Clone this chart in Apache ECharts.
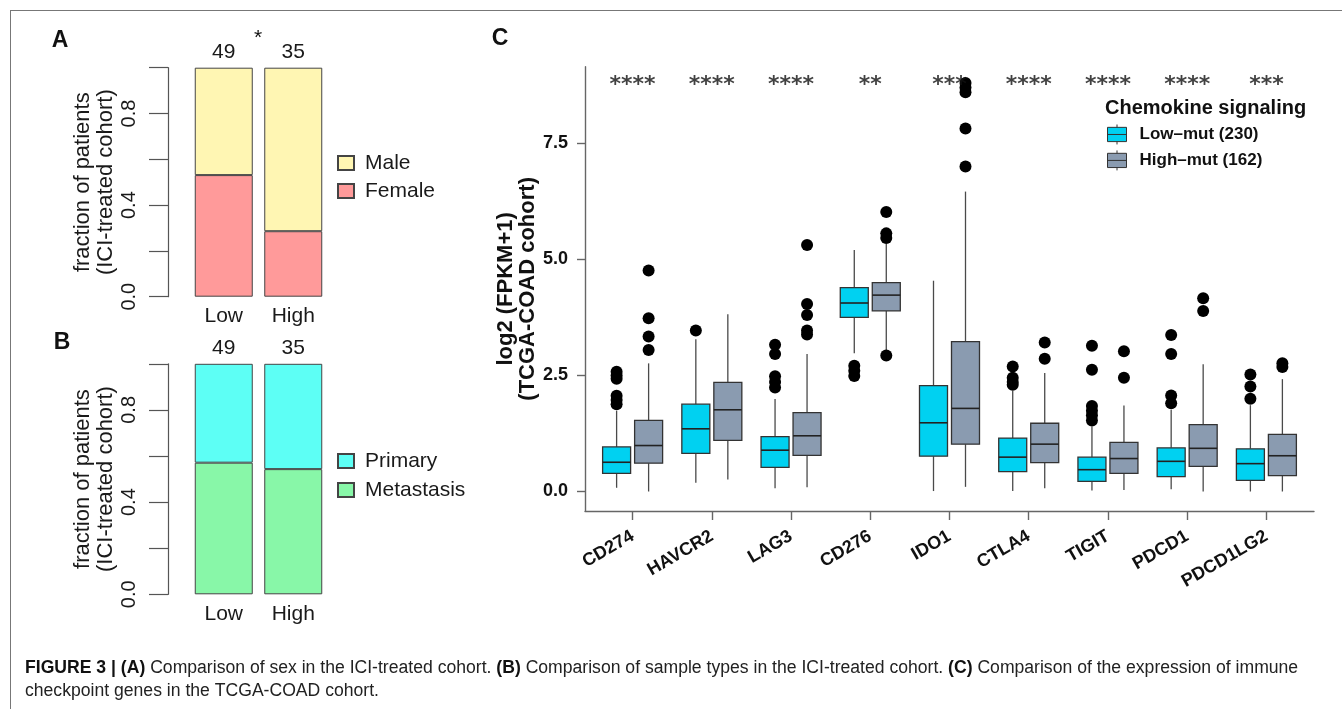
<!DOCTYPE html>
<html>
<head>
<meta charset="utf-8">
<script src="https://cdn.jsdelivr.net/npm/echarts@6/dist/echarts.min.js"></script>
<style>
  html, body { margin: 0; padding: 0; background: #fff; }
  #frame { position: absolute; left: 10px; top: 10px; width: 1332px; height: 699px;
           border-left: 1px solid #777; border-top: 1px solid #777; box-sizing: border-box; }
  #chart { position: absolute; left: 0; top: 0; width: 1342px; height: 709px; }
</style>
</head>
<body>
<div id="frame"></div>
<div id="chart"></div>
<script>
// panel A / B: fraction of patients
const GROUPS = ['Low', 'High']
const COUNTS = [49, 35]
const FEMALE = [0.531, 0.286]
const MALE = [0.469, 0.714]
const METASTASIS = [0.571, 0.543]
const PRIMARY = [0.429, 0.457]
const FRAC_TICKS = [0, 0.2, 0.4, 0.6, 0.8, 1]
const FRAC_LABELS = [0, 0.4, 0.8]

// panel C: expression boxplots  [whiskerLow, Q1, median, Q3, whiskerHigh]
const GENES = ['CD274', 'HAVCR2', 'LAG3', 'CD276', 'IDO1', 'CTLA4', 'TIGIT', 'PDCD1', 'PDCD1LG2']
const SIG = ['****', '****', '****', '**', '***', '****', '****', '****', '***']
const LOW_BOX = [
  [0.08, 0.39, 0.63, 0.96, 1.74],
  [0.19, 0.82, 1.35, 1.88, 3.28],
  [0.07, 0.52, 0.89, 1.18, 1.99],
  [2.98, 3.75, 4.06, 4.39, 5.20],
  [0.01, 0.76, 1.48, 2.28, 4.54],
  [0.01, 0.43, 0.74, 1.15, 2.17],
  [0.02, 0.22, 0.47, 0.74, 1.40],
  [0.05, 0.32, 0.65, 0.94, 1.76],
  [0.00, 0.24, 0.60, 0.92, 1.86],
]
const HIGH_BOX = [
  [0.00, 0.61, 0.99, 1.53, 2.76],
  [0.26, 1.10, 1.76, 2.35, 3.82],
  [0.09, 0.78, 1.20, 1.70, 2.96],
  [3.05, 3.89, 4.23, 4.50, 5.33],
  [0.10, 1.02, 1.79, 3.23, 6.46],
  [0.07, 0.62, 1.02, 1.47, 2.55],
  [0.03, 0.39, 0.71, 1.06, 1.85],
  [0.00, 0.54, 0.93, 1.44, 2.74],
  [0.00, 0.34, 0.77, 1.23, 2.42],
]
const LOW_OUT = [
  [2.58, 2.50, 2.43, 2.06, 1.97, 1.88],
  [3.47],
  [3.16, 2.96, 2.48, 2.36, 2.24],
  [2.71, 2.60, 2.49],
  [],
  [2.69, 2.45, 2.36, 2.30],
  [3.14, 2.62, 1.84, 1.74, 1.64, 1.53],
  [3.37, 2.96, 2.07, 1.90],
  [2.52, 2.26, 2.00],
]
const HIGH_OUT = [
  [4.76, 3.73, 3.34, 3.05],
  [],
  [5.31, 4.04, 3.80, 3.47, 3.38],
  [6.02, 5.56, 5.46, 2.93],
  [8.80, 8.70, 8.60, 7.82, 7.00],
  [3.21, 2.86],
  [3.02, 2.45],
  [4.16, 3.89],
  [2.76, 2.68],
]
const EXPR_TICKS = [0, 2.5, 5, 7.5]
const STAR_Y = 8.74

const FONT = 'Liberation Sans, Arial, Helvetica, sans-serif'
const LOW_COL = '#00d1f1'
const HIGH_COL = '#8a9bb0'
const BOX_W = 28
const OFF = 16

const chart = echarts.init(document.getElementById('chart'))

function fracYAxis(gridIndex) {
  return {
    type: 'value', gridIndex, min: 0, max: 1, offset: 21,
    name: 'fraction of patients\n(ICI-treated cohort)',
    nameLocation: 'middle', nameGap: 51, nameMoveOverlap: false,
    nameTextStyle: { fontFamily: FONT, fontSize: 22, lineHeight: 23, color: '#1a1a1a' },
    axisLine: { show: true, lineStyle: { color: '#555', width: 1.2 } },
    axisTick: { show: true, length: 19, customValues: FRAC_TICKS, lineStyle: { color: '#555', width: 1.2 } },
    axisLabel: {
      customValues: FRAC_LABELS, rotate: 90, margin: 29,
      fontFamily: FONT, fontSize: 20, color: '#1a1a1a',
      formatter: v => v.toFixed(1),
    },
    splitLine: { show: false },
  }
}

function groupXAxis(gridIndex) {
  return {
    type: 'category', gridIndex, data: GROUPS,
    axisLine: { show: false }, axisTick: { show: false },
    axisLabel: { fontFamily: FONT, fontSize: 21, color: '#1a1a1a', margin: 9 },
  }
}

function fracBar(name, data, color, gridIndex, stack, withCounts) {
  return {
    name, type: 'bar', xAxisIndex: gridIndex, yAxisIndex: gridIndex, stack,
    barWidth: 58, data,
    itemStyle: { color, borderColor: '#444', borderWidth: 1 },
    label: withCounts ? {
      show: true, position: 'top', distance: 5,
      fontFamily: FONT, fontSize: 21, color: '#1a1a1a',
      formatter: p => String(COUNTS[p.dataIndex]),
    } : { show: false },
    emphasis: { disabled: true },
  }
}

function boxRender(off, fill) {
  return function (params, api) {
    const i = api.value(0)
    const cx = api.coord([i, 0])[0] + off
    const py = k => api.coord([i, api.value(k)])[1]
    const wl = py(1), q1 = py(2), md = py(3), q3 = py(4), wh = py(5)
    const h = BOX_W / 2
    const ln = { stroke: '#4a4a4a', lineWidth: 1.3 }
    return {
      type: 'group',
      children: [
        { type: 'line', shape: { x1: cx, y1: wl, x2: cx, y2: q1 }, style: ln },
        { type: 'line', shape: { x1: cx, y1: q3, x2: cx, y2: wh }, style: ln },
        { type: 'rect', shape: { x: cx - h, y: q3, width: BOX_W, height: q1 - q3 },
          style: { fill, stroke: '#333', lineWidth: 1.3 } },
        { type: 'line', shape: { x1: cx - h, y1: md, x2: cx + h, y2: md },
          style: { stroke: '#222', lineWidth: 1.6 } },
      ],
    }
  }
}

function outliers(list) {
  const out = []
  list.forEach((vals, i) => vals.forEach(v => out.push([i, v])))
  return out
}

const legendIcon = 'path://M0,3H20V18H0Z M0,10.5H20 M10,0V3 M10,18V21'

chart.setOption({
  animation: false,
  grid: [
    { left: 189, width: 139, top: 67.7, height: 229 },
    { left: 189, width: 139, top: 363.8, height: 230.5 },
    { left: 585, right: 28, top: 66.7, height: 444.3 },
    { left: 593, right: 36, top: 66.7, height: 444.3 },
  ],
  xAxis: [
    groupXAxis(0),
    groupXAxis(1),
    {
      type: 'value', gridIndex: 2, min: 0, max: 1,
      axisLine: { show: true, onZero: false, lineStyle: { color: '#666', width: 1.4 } },
      axisTick: { show: false }, axisLabel: { show: false }, splitLine: { show: false },
    },
    {
      type: 'category', gridIndex: 3, data: GENES,
      axisLine: { show: false, onZero: false },
      axisTick: { show: true, alignWithLabel: true, length: 9, lineStyle: { color: '#666', width: 1.4 } },
      axisLabel: {
        rotate: 30, margin: 24, interval: 0,
        fontFamily: FONT, fontSize: 18, fontWeight: 'bold', color: '#111',
      },
    },
  ],
  yAxis: [
    fracYAxis(0),
    fracYAxis(1),
    {
      type: 'value', gridIndex: 2, min: -0.42, max: 9.15,
      name: 'log2 (FPKM+1)\n(TCGA-COAD cohort)',
      nameLocation: 'middle', nameGap: 46, nameMoveOverlap: false,
      nameTextStyle: { fontFamily: FONT, fontSize: 22, fontWeight: 'bold', lineHeight: 22, color: '#111' },
      axisLine: { show: true, onZero: false, lineStyle: { color: '#666', width: 1.4 } },
      axisTick: { show: true, length: 8, customValues: EXPR_TICKS, lineStyle: { color: '#666', width: 1.4 } },
      axisLabel: {
        customValues: EXPR_TICKS, margin: 17,
        fontFamily: FONT, fontSize: 18, fontWeight: 'bold', color: '#111',
        formatter: v => v.toFixed(1),
      },
      splitLine: { show: false },
    },
    { type: 'value', gridIndex: 3, min: -0.42, max: 9.15, show: false },
  ],
  legend: [
    {
      orient: 'vertical', left: 332, top: 147.5, icon: 'rect',
      itemWidth: 16, itemHeight: 14, itemGap: 7,
      data: ['Male', 'Female'],
      textStyle: { fontFamily: FONT, fontSize: 21, lineHeight: 21, color: '#1a1a1a', padding: [0, 0, 0, 6] },
      selectedMode: false,
    },
    {
      orient: 'vertical', left: 332, top: 445.5, icon: 'rect',
      itemWidth: 16, itemHeight: 14, itemGap: 8,
      data: ['Primary', 'Metastasis'],
      textStyle: { fontFamily: FONT, fontSize: 21, lineHeight: 21, color: '#1a1a1a', padding: [0, 0, 0, 6] },
      selectedMode: false,
    },
    {
      orient: 'vertical', left: 1102, top: 119, icon: legendIcon,
      itemWidth: 19, itemHeight: 20, itemGap: 5,
      data: [
        { name: 'Low\u2013mut (230)', itemStyle: { color: LOW_COL, borderColor: '#333', borderWidth: 1 } },
        { name: 'High\u2013mut (162)', itemStyle: { color: HIGH_COL, borderColor: '#333', borderWidth: 1 } },
      ],
      textStyle: { fontFamily: FONT, fontSize: 17, fontWeight: 'bold', lineHeight: 20, color: '#111', padding: [0, 0, 0, 8] },
      selectedMode: false,
    },
  ],
  series: [
    fracBar('Female', FEMALE, '#ff9a9a', 0, 'a', false),
    fracBar('Male', MALE, '#fff6b3', 0, 'a', true),
    fracBar('Metastasis', METASTASIS, '#88f7a8', 1, 'b', false),
    fracBar('Primary', PRIMARY, '#5dfff5', 1, 'b', true),
    {
      name: 'Low\u2013mut (230)', type: 'custom', xAxisIndex: 3, yAxisIndex: 3,
      data: LOW_BOX.map((b, i) => [i, ...b]),
      encode: { x: 0, y: [1, 2, 3, 4, 5] },
      itemStyle: { color: LOW_COL },
      renderItem: boxRender(-OFF, LOW_COL),
    },
    {
      name: 'High\u2013mut (162)', type: 'custom', xAxisIndex: 3, yAxisIndex: 3,
      data: HIGH_BOX.map((b, i) => [i, ...b]),
      encode: { x: 0, y: [1, 2, 3, 4, 5] },
      itemStyle: { color: HIGH_COL },
      renderItem: boxRender(OFF, HIGH_COL),
    },
    {
      name: 'low outliers', type: 'scatter', xAxisIndex: 3, yAxisIndex: 3,
      data: outliers(LOW_OUT), symbolSize: 12, symbolOffset: [-OFF, 0],
      itemStyle: { color: '#000', opacity: 1 }, emphasis: { disabled: true },
    },
    {
      name: 'high outliers', type: 'scatter', xAxisIndex: 3, yAxisIndex: 3,
      data: outliers(HIGH_OUT), symbolSize: 12, symbolOffset: [OFF, 0],
      itemStyle: { color: '#000', opacity: 1 }, emphasis: { disabled: true },
    },
    {
      name: 'significance', type: 'scatter', xAxisIndex: 3, yAxisIndex: 3,
      data: GENES.map((g, i) => [i, STAR_Y]), symbolSize: 1,
      itemStyle: { color: 'rgba(0,0,0,0)' },
      label: {
        show: true, position: 'inside',
        fontFamily: 'DejaVu Sans', fontSize: 22, fontWeight: 'bold', color: '#111',
        formatter: p => SIG[p.dataIndex],
      },
      emphasis: { disabled: true },
    },
  ],
  graphic: [
    { type: 'text', x: 60, y: 41, style: { text: 'A', fontFamily: FONT, fontSize: 23, fontWeight: 'bold', fill: '#111', align: 'center', verticalAlign: 'middle' } },
    { type: 'text', x: 62, y: 343, style: { text: 'B', fontFamily: FONT, fontSize: 23, fontWeight: 'bold', fill: '#111', align: 'center', verticalAlign: 'middle' } },
    { type: 'text', x: 500, y: 39, style: { text: 'C', fontFamily: FONT, fontSize: 23, fontWeight: 'bold', fill: '#111', align: 'center', verticalAlign: 'middle' } },
    { type: 'text', x: 258, y: 38, style: { text: '*', fontFamily: FONT, fontSize: 21, fill: '#111', align: 'center', verticalAlign: 'middle' } },
    { type: 'text', x: 1105, y: 108, style: { text: 'Chemokine signaling', fontFamily: FONT, fontSize: 20, fontWeight: 'bold', fill: '#111', align: 'left', verticalAlign: 'middle' } },
    {
      type: 'text', x: 25, y: 657,
      style: {
        text: '{b|FIGURE 3 | (A)} Comparison of sex in the ICI-treated cohort. {b|(B)} Comparison of sample types in the ICI-treated cohort. {b|(C)} Comparison of the expression of immune\ncheckpoint genes in the TCGA-COAD cohort.',
        fontFamily: FONT, fontSize: 17.6, lineHeight: 23, fill: '#222', align: 'left', verticalAlign: 'top',
        rich: { b: { fontFamily: FONT, fontSize: 17.6, lineHeight: 23, fontWeight: 'bold', fill: '#111' } },
      },
    },
  ],
})
</script>
</body>
</html>
